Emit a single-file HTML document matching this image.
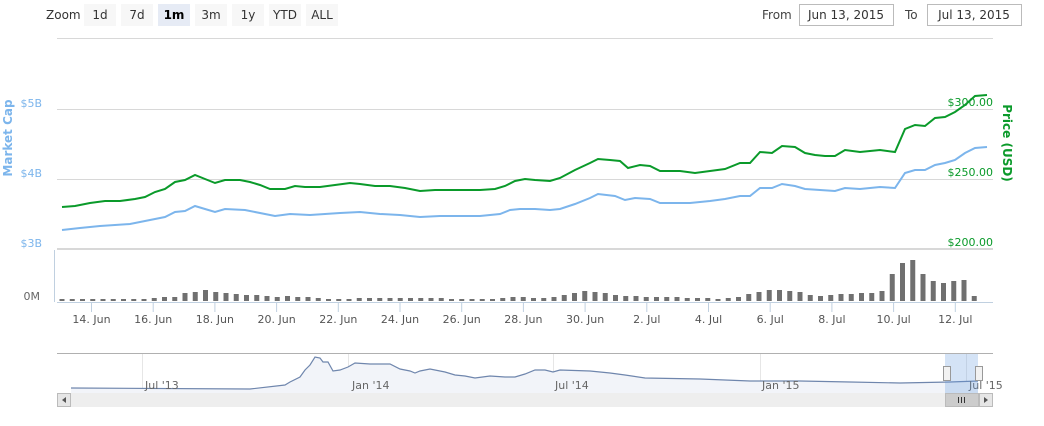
<!DOCTYPE html>
<html><head><meta charset="utf-8"><style>
body{margin:0;background:#fff;font-family:"Liberation Sans","DejaVu Sans",sans-serif;}
svg text{font-family:"DejaVu Sans","Liberation Sans",sans-serif;}
</style></head><body>
<svg width="1044" height="421" xmlns="http://www.w3.org/2000/svg" id="s">
<rect width="1044" height="421" fill="#fff"/>
<!-- toolbar -->
<text x="46" y="19" font-size="12" fill="#333">Zoom</text>
<g font-size="12" fill="#333" text-anchor="middle">
<rect x="84" y="4" width="32" height="22" fill="#f7f7f7"/><text x="100" y="19">1d</text>
<rect x="121" y="4" width="32" height="22" fill="#f7f7f7"/><text x="137" y="19">7d</text>
<rect x="158" y="4" width="32" height="22" fill="#e6ebf5"/><text x="174" y="19" font-weight="bold" fill="#000">1m</text>
<rect x="195" y="4" width="32" height="22" fill="#f7f7f7"/><text x="211" y="19">3m</text>
<rect x="232" y="4" width="32" height="22" fill="#f7f7f7"/><text x="248" y="19">1y</text>
<rect x="269" y="4" width="32" height="22" fill="#f7f7f7"/><text x="285" y="19">YTD</text>
<rect x="306" y="4" width="32" height="22" fill="#f7f7f7"/><text x="322" y="19">ALL</text>
</g>
<text x="762" y="19" font-size="12" fill="#444">From</text>
<rect x="799.5" y="4.5" width="94" height="21" fill="#fff" stroke="#bbb"/>
<text x="846" y="19" font-size="12" fill="#333" text-anchor="middle">Jun 13, 2015</text>
<text x="905" y="19" font-size="12" fill="#444">To</text>
<rect x="927.5" y="4.5" width="94" height="21" fill="#fff" stroke="#bbb"/>
<text x="974" y="19" font-size="12" fill="#333" text-anchor="middle">Jul 13, 2015</text>
<!-- grid -->
<g stroke="#d8d8d8" stroke-width="1">
<line x1="57" y1="38.5" x2="993" y2="38.5"/>
<line x1="57" y1="109.5" x2="993" y2="109.5"/>
<line x1="57" y1="179.5" x2="993" y2="179.5"/>
</g>
<line x1="57" y1="249" x2="993" y2="249" stroke="#d8d8d8" stroke-width="2"/>
<line x1="54.5" y1="250" x2="54.5" y2="302" stroke="#c0d0e0"/>
<line x1="57" y1="302.5" x2="993" y2="302.5" stroke="#c0d0e0"/>
<g font-size="11" fill="#7cb5ec" text-anchor="end">
<text x="42" y="107">$5B</text><text x="42" y="177">$4B</text><text x="42" y="247">$3B</text>
</g>
<text x="40" y="300" font-size="11" fill="#666" text-anchor="end">0M</text>
<g font-size="11" fill="#0a9a2a" text-anchor="end">
<text x="993" y="106">$300.00</text><text x="993" y="176">$250.00</text><text x="993" y="246">$200.00</text>
</g>
<text transform="translate(12,138) rotate(-90)" font-size="12" font-weight="bold" fill="#7cb5ec" text-anchor="middle">Market Cap</text>
<text transform="translate(1003,143) rotate(90)" font-size="12" font-weight="bold" fill="#0a9a2a" text-anchor="middle">Price (USD)</text>
<g id="bars" fill="#707070"></g>
<g id="ticks" stroke="#c0d0e0"></g>
<g id="tl" font-size="11" fill="#555" text-anchor="middle"></g>
<polyline fill="none" stroke="#7cb5ec" stroke-width="2" points="62,230 80,228 100,226 130,224 150,220 165,217 175,212 185,211 195,206 205,209 215,212 225,209 245,210 265,214 275,216 290,214 310,215 325,214 340,213 360,212 380,214 400,215 420,217 440,216 480,216 500,214 510,210 520,209 535,209 550,210 560,209 575,204 590,198 598,194 615,196 625,200 635,198 650,199 660,203 690,203 710,201 725,199 740,196 750,196 760,188 772,188 782,184 795,186 805,189 820,190 835,191 845,188 860,189 880,187 895,188 905,173 915,170 925,170 935,165 945,163 955,160 965,153 975,148 987,147"/>
<polyline fill="none" stroke="#0a9a2a" stroke-width="2" points="62,207 75,206 90,203 105,201 120,201 135,199 145,197 155,192 165,189 175,182 185,180 195,175 205,179 215,183 225,180 240,180 250,182 260,185 270,189 285,189 295,186 305,187 320,187 335,185 350,183 360,184 375,186 390,186 405,188 420,191 435,190 450,190 465,190 480,190 495,189 505,186 515,181 525,179 535,180 550,181 560,178 575,170 590,163 598,159 610,160 620,161 628,168 640,165 650,166 660,171 680,171 695,173 710,171 725,169 740,163 750,163 760,152 772,153 782,146 795,147 805,153 815,155 825,156 835,156 845,150 860,152 870,151 880,150 895,152 905,129 915,125 925,126 935,118 945,117 955,112 965,105 975,96 987,95"/>
<!-- navigator -->
<rect x="57" y="354" width="936" height="39" fill="#fff"/>
<g stroke="#e6e6e6"><line x1="142.5" y1="354" x2="142.5" y2="393"/><line x1="348.5" y1="354" x2="348.5" y2="393"/><line x1="553.5" y1="354" x2="553.5" y2="393"/><line x1="760.5" y1="354" x2="760.5" y2="393"/><line x1="966.5" y1="354" x2="966.5" y2="393"/></g>
<line x1="57" y1="353.5" x2="993" y2="353.5" stroke="#b0b0b0"/>
<polygon fill="#f2f4f9" points="71,393 71,388 250,389 285,385 290,382 300,377 305,370 310,365 315,357 320,358 323,362 328,362 333,371 340,370 348,367 355,363 370,364 390,364 400,369 410,371 415,373 420,371 430,369 445,372 455,375 465,376 475,378 490,376 505,377 515,377 525,374 535,370 545,370 553,372 560,370 590,371 610,373 625,375 645,378 700,379 750,381 800,381 850,382 900,383 950,382 978,381 978,393"/>
<polyline fill="none" stroke="#6f86ad" stroke-width="1.2" points="71,388 250,389 285,385 290,382 300,377 305,370 310,365 315,357 320,358 323,362 328,362 333,371 340,370 348,367 355,363 370,364 390,364 400,369 410,371 415,373 420,371 430,369 445,372 455,375 465,376 475,378 490,376 505,377 515,377 525,374 535,370 545,370 553,372 560,370 590,371 610,373 625,375 645,378 700,379 750,381 800,381 850,382 900,383 950,382 978,381"/>
<g font-size="11" fill="#666">
<text x="145" y="389">Jul '13</text><text x="352" y="389">Jan '14</text><text x="555" y="389">Jul '14</text><text x="762" y="389">Jan '15</text><text x="969" y="389">Jul '15</text>
</g>
<rect x="945" y="354" width="33" height="39" fill="#6699dd" fill-opacity="0.28"/>
<rect x="943.5" y="366.5" width="7" height="14" fill="#f2f2f2" stroke="#999"/>
<rect x="975.5" y="366.5" width="7" height="14" fill="#f2f2f2" stroke="#999"/>
<rect x="57" y="393" width="936" height="14" fill="#eee"/>
<rect x="57.5" y="393.5" width="13" height="13" fill="#e6e6e6" stroke="#bbb"/>
<path d="M66 397 L62 400 L66 403Z" fill="#555"/>
<rect x="979.5" y="393.5" width="13" height="13" fill="#e6e6e6" stroke="#bbb"/>
<path d="M984 397 L988 400 L984 403Z" fill="#555"/>
<rect x="945.5" y="393.5" width="33" height="13" fill="#ccc" stroke="#bbb"/>
<g stroke="#333"><line x1="958.5" y1="397" x2="958.5" y2="403"/><line x1="961.5" y1="397" x2="961.5" y2="403"/><line x1="964.5" y1="397" x2="964.5" y2="403"/></g>
</svg>
<script>
var h=[2,2,2,2,2,2,2,2,2,3,4,4,8,9,11,9,8,7,6,6,5,4,5,4,4,3,2,2,2,3,3,3,3,3,3,3,3,3,2,2,2,2,2,3,4,4,3,3,4,6,8,10,9,8,6,5,5,4,4,4,4,3,3,3,2,3,4,7,9,11,11,10,9,6,5,6,7,7,8,8,10,27,38,41,27,20,18,20,21,5];
var ns="http://www.w3.org/2000/svg",b=document.getElementById('bars');
for(var i=0;i<h.length;i++){var r=document.createElementNS(ns,'rect');var x=62+i*10.25;r.setAttribute('x',x-2.5);r.setAttribute('y',301-h[i]);r.setAttribute('width',5);r.setAttribute('height',h[i]);b.appendChild(r);}
var L=["14. Jun","16. Jun","18. Jun","20. Jun","22. Jun","24. Jun","26. Jun","28. Jun","30. Jun","2. Jul","4. Jul","6. Jul","8. Jul","10. Jul","12. Jul"];
var t=document.getElementById('ticks'),tl=document.getElementById('tl');
for(var j=0;j<L.length;j++){var x=91.5+j*61.7;var l=document.createElementNS(ns,'line');l.setAttribute('x1',x);l.setAttribute('x2',x);l.setAttribute('y1',303);l.setAttribute('y2',312);t.appendChild(l);
var tx=document.createElementNS(ns,'text');tx.setAttribute('x',x);tx.setAttribute('y',323);tx.textContent=L[j];tl.appendChild(tx);}
</script>
</body></html>
